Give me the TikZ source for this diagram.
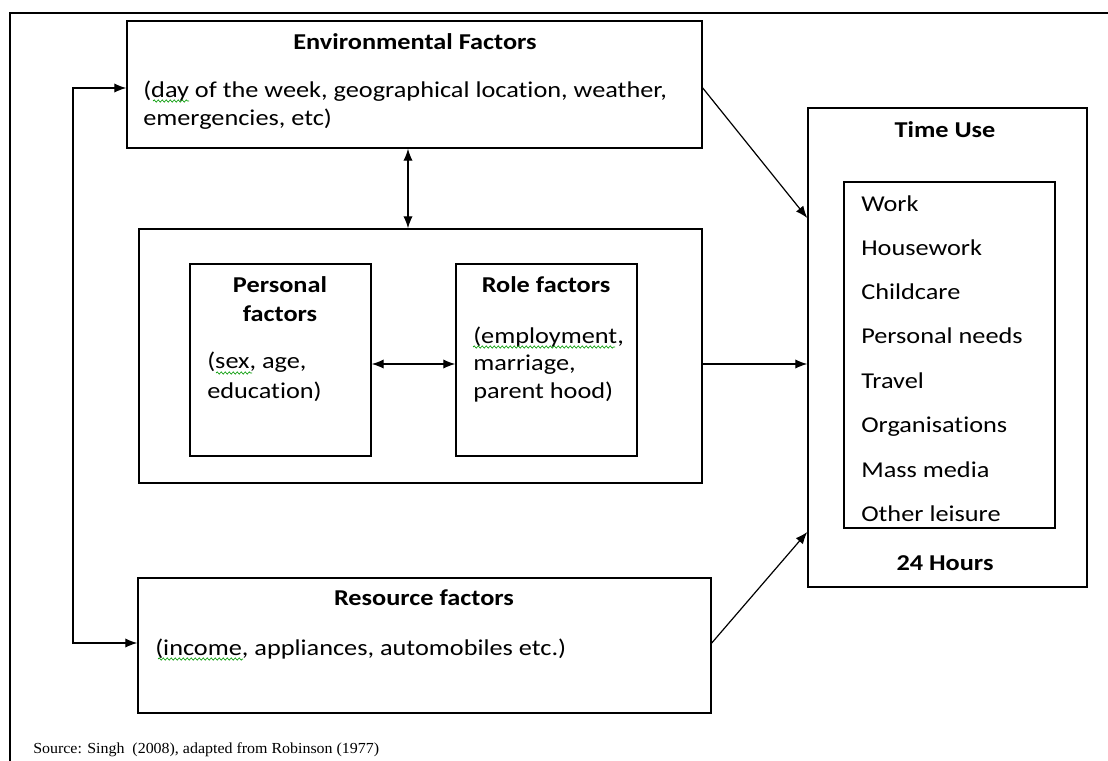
\documentclass[tikz,border=0pt]{standalone}
\usepackage{fontspec}
\setmainfont{Carlito}[FakeStretch=1.16,Ligatures=NoCommon]
\newfontfamily\srcfont{Liberation Serif}[FakeStretch=1.04]
\usetikzlibrary{arrows.meta,fit,decorations.pathmorphing}
\begin{document}
\begin{tikzpicture}[x=0.75pt,y=-0.75pt,
  bx/.style={draw, line width=1.1pt, inner sep=0pt},
  tip/.tip={Latex[length=9pt,width=7pt]},
  con/.style={line width=0.9pt, -tip},
  bicon/.style={line width=0.9pt, tip-tip},
  ttl/.style={font=\fontsize{17}{20}\selectfont\bfseries, inner sep=0pt, anchor=base},
  txt/.style={font=\fontsize{17}{20}\selectfont, inner sep=0pt, anchor=base west},
  squig/.style={draw=green!60!black, line width=0.5pt, decorate, decoration={snake, amplitude=0.8pt, segment length=3pt}}]
\useasboundingbox (0,0) rectangle (1108,761);
% outer frame (cropped)
\draw[line width=1.6pt] (10,761) -- (10,13) -- (1108,13);

% boxes
\node[bx, fit={(127,21) (702,148)}] (env) {};
\node[bx, fit={(139,229) (702,483)}] (mid) {};
\node[bx, fit={(190,264) (371,456)}] (pers) {};
\node[bx, fit={(456,264) (637,456)}] (role) {};
\node[bx, fit={(138,578) (711,713)}] (res) {};
\node[bx, fit={(808,108) (1087,587)}] (tu) {};
\node[bx, fit={(844,182) (1055,528)}] (list) {};

% texts
\node[ttl] (envt) at (415,49) {Environmental Factors};
\node[txt] (envb1) at (143,97) {(day of the week, geographical location, weather,};
\node[txt] (envb2) at (143,125) {emergencies, etc)};

\node[ttl] (perst) at (280,292) {Personal};
\node[ttl] (perst2) at (280,321) {factors};
\node[txt] (persb1) at (207,368) {(sex, age,};
\node[txt] (persb2) at (207,398) {education)};

\node[ttl] (rolet) at (546,292) {Role factors};
\node[txt] (roleb1) at (473,343) {(employment,};
\node[txt] (roleb2) at (473,370) {marriage,};
\node[txt] (roleb3) at (473,398) {parent hood)};

\node[ttl] (rest) at (424,605) {Resource factors};
\node[txt] (resb) at (155,655) {(income, appliances, automobiles etc.)};

\node[ttl] (tut) at (945,137) {Time Use};
\node[txt] (l1) at (861,211) {Work};
\node[txt] (l2) at (861,255) {Housework};
\node[txt] (l3) at (861,299) {Childcare};
\node[txt] (l4) at (861,343) {Personal needs};
\node[txt] (l5) at (861,388) {Travel};
\node[txt] (l6) at (861,432) {Organisations};
\node[txt] (l7) at (861,477) {Mass media};
\node[txt] (l8) at (861,521) {Other leisure};
\node[ttl] (tuh) at (945,570) {24 Hours};

\node[inner sep=0pt, anchor=base west, font=\srcfont\fontsize{11.5}{14}\selectfont] (src) at (33,753)
  {Source: Singh\ \ (2008), adapted from Robinson (1977)};

% spelling squiggles
\draw[squig] (153,101) -- (189,101);
\draw[squig] (216,373) -- (252,373);
\draw[squig] (473,347) -- (615,347);
\draw[squig] (158,659) -- (243,659);

% connectors
\coordinate (fbtop) at (73,88);
\coordinate (fbbot) at (73,643);
\draw[con] (fbbot) -- (fbtop) -- (env.west |- fbtop);
\draw[con] (fbtop) -- (fbbot) -- (res.west |- fbbot);
\draw[bicon] (env.south -| 408,0) -- (mid.north -| 408,0);
\draw[bicon] (pers.east |- 0,364) -- (role.west |- 0,364);
\draw[con] (mid.east |- 0,364) -- (tu.west |- 0,364);
\draw[con] (env.east |- 0,88) -- (tu.west |- 0,218);
\draw[con] (res.east |- 0,643) -- (tu.west |- 0,532);
\end{tikzpicture}
\end{document}
